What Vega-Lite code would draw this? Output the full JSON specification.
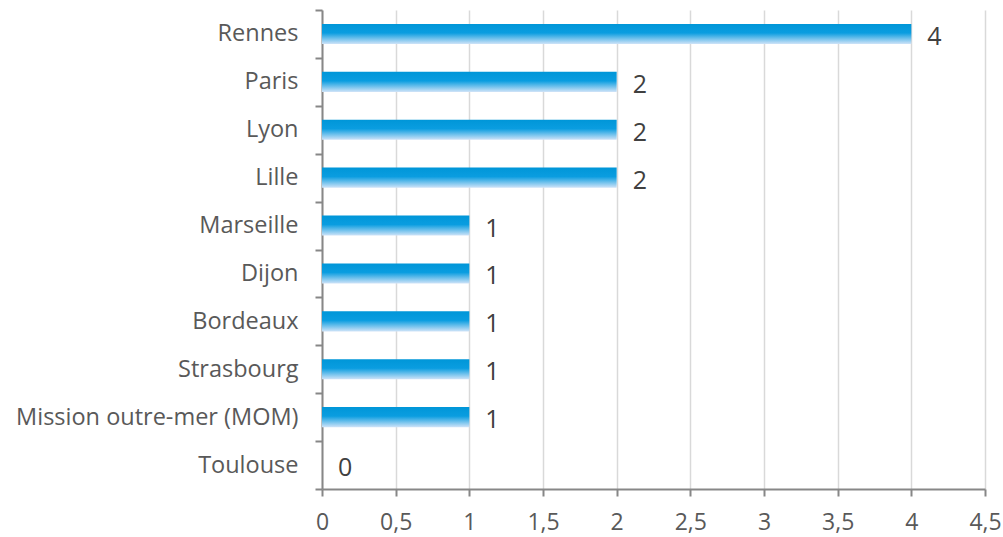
{
  "$schema": "https://vega.github.io/schema/vega-lite/v6.json",
  "autosize": {"type": "none"},
  "width": 663,
  "height": 479,
  "padding": {"left": 322, "top": 10, "right": 18, "bottom": 48},
  "background": "white",
  "data": {"values": [
    {"ville": "Rennes", "n": 4},
    {"ville": "Paris", "n": 2},
    {"ville": "Lyon", "n": 2},
    {"ville": "Lille", "n": 2},
    {"ville": "Marseille", "n": 1},
    {"ville": "Dijon", "n": 1},
    {"ville": "Bordeaux", "n": 1},
    {"ville": "Strasbourg", "n": 1},
    {"ville": "Mission outre-mer (MOM)", "n": 1},
    {"ville": "Toulouse", "n": 0}
  ]},
  "config": {
    "view": {"stroke": null},
    "font": "Open Sans"
  },
  "encoding": {
    "y": {
      "field": "ville", "type": "nominal", "sort": null, "title": null,
      "scale": {"paddingInner": 0, "paddingOuter": 0},
      "axis": {
        "domainColor": "#878787", "domainWidth": 2, "tickColor": "#878787", "tickWidth": 2,
        "tickSize": 7, "tickBand": "extent", "labelPadding": 17, "labelFontSize": 23.5,
        "labelColor": "#595959", "labelFont": "Open Sans", "grid": false, "labelLimit": 400
      }
    },
    "x": {
      "field": "n", "type": "quantitative", "title": null,
      "scale": {"domain": [0, 4.5], "nice": false},
      "axis": {
        "values": [0, 0.5, 1, 1.5, 2, 2.5, 3, 3.5, 4, 4.5],
        "format": ",.1~f", "formatType": "number",
        "labelExpr": "replace(datum.label, '.', ',')",
        "domainColor": "#878787", "domainWidth": 2, "tickColor": "#878787", "tickWidth": 2,
        "tickSize": 7, "labelPadding": 15, "labelFontSize": 23, "labelColor": "#595959",
        "labelFont": "Open Sans",
        "grid": true, "gridColor": "#d9d9d9", "gridWidth": 1.5, "labelFlush": false
      }
    }
  },
  "layer": [
    {
      "mark": {
        "type": "bar",
        "height": {"band": 0.42},
        "color": {
          "gradient": "linear", "x1": 0, "y1": 0, "x2": 0, "y2": 1,
          "stops": [
            {"offset": 0, "color": "#0096d8"},
            {"offset": 0.45, "color": "#0a9de0"},
            {"offset": 1, "color": "#cfe3f8"}
          ]
        }
      }
    },
    {
      "mark": {"type": "text", "align": "left", "baseline": "middle", "dx": 16, "dy": 3, "fontSize": 25, "color": "#404040", "font": "Open Sans"},
      "encoding": {"text": {"field": "n", "type": "quantitative"}}
    }
  ]
}
